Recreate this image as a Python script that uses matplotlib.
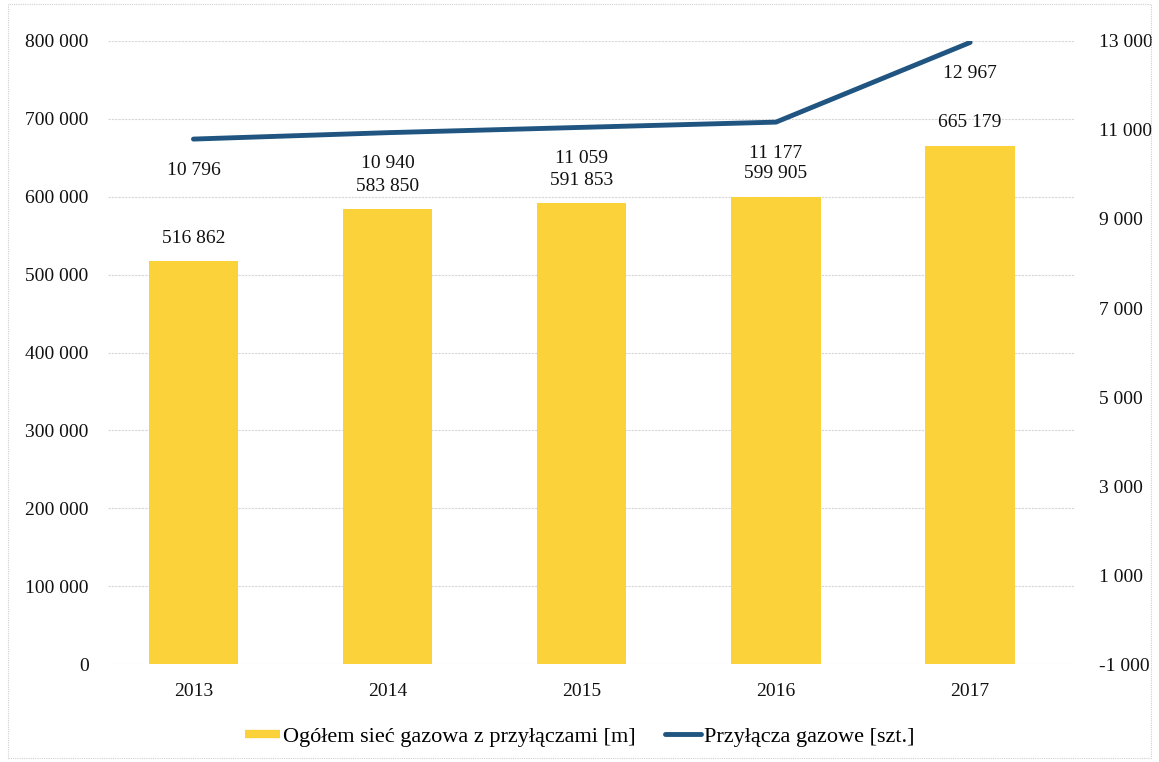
import matplotlib
matplotlib.use("Agg")
import matplotlib.pyplot as plt
from matplotlib.ticker import FuncFormatter
from matplotlib.patches import Rectangle
from matplotlib.lines import Line2D

years = ["2013", "2014", "2015", "2016", "2017"]
network_m = [516862, 583850, 591853, 599905, 665179]
connections = [10796, 10940, 11059, 11177, 12967]
left_ticks = [0, 100000, 200000, 300000, 400000, 500000, 600000, 700000, 800000]
right_ticks = [-1000, 1000, 3000, 5000, 7000, 9000, 11000, 13000]
bar_label = "Ogółem sieć gazowa z przyłączami [m]"
line_label = "Przyłącza gazowe [szt.]"

plt.rcParams['font.family'] = ['Liberation Serif', 'DejaVu Serif']

def fmt(v, pos=None):
    s = f"{int(v):,}".replace(",", " ")
    return s

fig = plt.figure(figsize=(11.59, 7.62), dpi=100)
fig.patches.append(Rectangle((0.007, 0.005), 0.986, 0.99, transform=fig.transFigure,
                             fill=False, edgecolor='#d0d0d0', lw=0.8, ls=(0, (1, 1))))
ax = fig.add_axes([0.0932, 0.1286, 0.8343, 0.8176])
x = list(range(len(years)))
bar_color = '#FCD23A'
line_color = '#1F5580'

ax.bar(x, network_m, width=0.46, color=bar_color, zorder=2)
ax.set_ylim(0, 800000)
ax.set_xlim(-0.44, 4.54)
ax.set_yticks(left_ticks)
ax.yaxis.set_major_formatter(FuncFormatter(fmt))
ax.set_xticks(x)
ax.set_xticklabels(years)
ax.grid(axis='y', color='#d6d6d6', lw=0.8, ls=(0, (2, 1)), zorder=0)
for s in ax.spines.values():
    s.set_visible(False)
ax.tick_params(axis='both', length=0, labelsize=14, colors='#111111')
ax.tick_params(axis='y', pad=14)
ax.tick_params(axis='x', pad=14)

for xi, v in zip(x, network_m):
    ax.annotate(fmt(v), (xi, v), xytext=(0, 23), textcoords='offset pixels',
                ha='center', va='center', fontsize=14, color='#111111')

ax2 = ax.twinx()
ax2.plot(x, connections, color=line_color, lw=3.5, solid_capstyle='round', zorder=3)
ax2.set_ylim(-1000, 13000)
ax2.set_yticks(right_ticks)
ax2.yaxis.set_major_formatter(FuncFormatter(fmt))
for s in ax2.spines.values():
    s.set_visible(False)
ax2.tick_params(axis='y', length=0, labelsize=14, colors='#111111', pad=17)
for xi, v in zip(x, connections):
    ax2.annotate(fmt(v), (xi, v), xytext=(0, -31), textcoords='offset pixels',
                 ha='center', va='center', fontsize=14, color='#111111')

handles = [Line2D([0], [0], color=bar_color, lw=6, solid_capstyle='butt'),
           Line2D([0], [0], color=line_color, lw=3.5, solid_capstyle='round')]
fig.legend(handles, [bar_label, line_label], loc='center', bbox_to_anchor=(0.5, 0.033),
           ncol=2, frameon=False, fontsize=16, handlelength=1.6, handletextpad=0.15,
           columnspacing=1.3)

fig.savefig("out.png", dpi=100)
